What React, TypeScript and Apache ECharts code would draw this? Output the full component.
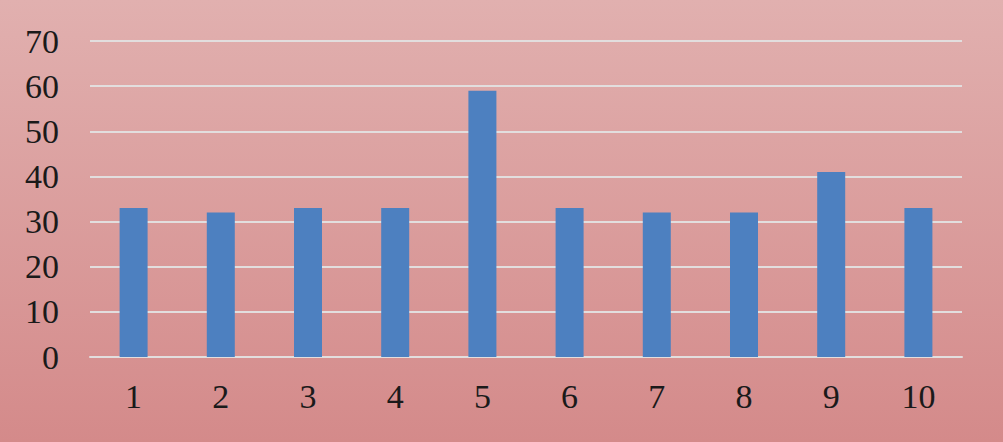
import React, { useEffect, useRef } from "react";
import * as echarts from "echarts";

const categories = ["1", "2", "3", "4", "5", "6", "7", "8", "9", "10"];
const values = [33, 32, 33, 33, 59, 33, 32, 32, 41, 33];

export default function App() {
  const ref = useRef<HTMLDivElement>(null);
  useEffect(() => {
    const chart = echarts.init(ref.current!, null, { renderer: "svg" });
    chart.setOption({
      animation: false,
      backgroundColor: {
        type: "linear",
        x: 0, y: 0, x2: 0, y2: 1,
        colorStops: [
          { offset: 0, color: "#e1b0af" },
          { offset: 1, color: "#d48a8a" },
        ],
      },
      grid: { left: 90, right: 41, top: 41, bottom: 85, containLabel: false },
      xAxis: {
        type: "category",
        data: categories,
        axisTick: { show: false },
        axisLine: { show: true, lineStyle: { color: "#e2dede", width: 2 } },
        axisLabel: {
          margin: 22,
          color: "#1a1a1a",
          fontFamily: "Liberation Serif",
          fontSize: 34,
        },
      },
      yAxis: {
        type: "value",
        min: 0,
        max: 70,
        interval: 10,
        axisLine: { show: false },
        axisTick: { show: false },
        splitLine: { lineStyle: { color: "#e2dede", width: 2 } },
        axisLabel: {
          margin: 31,
          color: "#1a1a1a",
          fontFamily: "Liberation Serif",
          fontSize: 34,
        },
      },
      series: [
        {
          type: "bar",
          data: values,
          barWidth: 28,
          itemStyle: { color: "#4d80c0" },
        },
      ],
    });
    return () => chart.dispose();
  }, []);
  return (
    <div
      ref={ref}
      style={{ position: "fixed", left: 0, top: 0, width: 1003, height: 442 }}
    />
  );
}
